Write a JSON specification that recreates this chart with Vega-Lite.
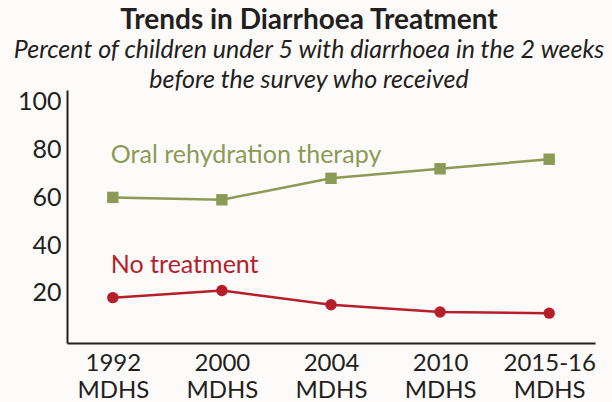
{
  "$schema": "https://vega.github.io/schema/vega-lite/v6.json",
  "width": 528,
  "height": 253,
  "autosize": {"type": "none"},
  "padding": {"left": 67, "top": 90, "right": 17, "bottom": 59},
  "background": "#fdfafa",
  "config": {"view": {"stroke": null}, "font": "Lato"},
  "title": {
    "text": "Trends in Diarrhoea Treatment",
    "subtitle": ["Percent of children under 5 with diarrhoea in the 2 weeks", "before the survey who received"],
    "anchor": "middle",
    "frame": "group",
    "dx": -22,
    "font": "Lato",
    "fontSize": 28,
    "fontWeight": "bold",
    "color": "#231f20",
    "subtitleFont": "Lato",
    "subtitleFontSize": 25,
    "subtitleFontStyle": "italic",
    "subtitleColor": "#231f20",
    "subtitleLineHeight": 30,
    "subtitlePadding": 3,
    "offset": -3
  },
  "data": {
    "values": [
      {"survey": "1992 MDHS", "series": "Oral rehydration therapy", "value": 60},
      {"survey": "2000 MDHS", "series": "Oral rehydration therapy", "value": 59},
      {"survey": "2004 MDHS", "series": "Oral rehydration therapy", "value": 68},
      {"survey": "2010 MDHS", "series": "Oral rehydration therapy", "value": 72},
      {"survey": "2015-16 MDHS", "series": "Oral rehydration therapy", "value": 76},
      {"survey": "1992 MDHS", "series": "No treatment", "value": 18},
      {"survey": "2000 MDHS", "series": "No treatment", "value": 21},
      {"survey": "2004 MDHS", "series": "No treatment", "value": 15},
      {"survey": "2010 MDHS", "series": "No treatment", "value": 12},
      {"survey": "2015-16 MDHS", "series": "No treatment", "value": 11.5}
    ]
  },
  "encoding": {
    "x": {
      "field": "survey",
      "type": "ordinal",
      "sort": ["1992 MDHS", "2000 MDHS", "2004 MDHS", "2010 MDHS", "2015-16 MDHS"],
      "scale": {"type": "point", "padding": 0.42},
      "axis": {
        "title": null,
        "labelAngle": 0,
        "ticks": false,
        "domainColor": "#231f20",
        "domainWidth": 2,
        "labelFontSize": 24,
        "labelColor": "#231f20",
        "labelPadding": 8,
        "labelLineHeight": 27,
        "labelExpr": "split(datum.label, ' ')"
      }
    },
    "y": {
      "field": "value",
      "type": "quantitative",
      "scale": {"domain": [-1, 105], "nice": false, "zero": false},
      "axis": {
        "title": null,
        "values": [20, 40, 60, 80, 100],
        "grid": false,
        "ticks": false,
        "domainColor": "#231f20",
        "domainWidth": 2,
        "labelFontSize": 25,
        "labelColor": "#231f20",
        "labelPadding": 6
      }
    },
    "color": {
      "field": "series",
      "type": "nominal",
      "scale": {"domain": ["Oral rehydration therapy", "No treatment"], "range": ["#8b9a55", "#b41f2a"]},
      "legend": null
    }
  },
  "layer": [
    {"mark": {"type": "line", "strokeWidth": 2.5}},
    {
      "mark": {"type": "point", "filled": true, "opacity": 1, "size": 130},
      "encoding": {
        "shape": {
          "field": "series",
          "type": "nominal",
          "scale": {"domain": ["Oral rehydration therapy", "No treatment"], "range": ["square", "circle"]},
          "legend": null
        }
      }
    },
    {
      "data": {
        "values": [
          {"survey": "1992 MDHS", "series": "Oral rehydration therapy", "value": 74.4},
          {"survey": "1992 MDHS", "series": "No treatment", "value": 28.3}
        ]
      },
      "mark": {"type": "text", "align": "left", "baseline": "alphabetic", "fontSize": 25, "font": "Lato", "dx": -2},
      "encoding": {"text": {"field": "series"}}
    }
  ]
}
